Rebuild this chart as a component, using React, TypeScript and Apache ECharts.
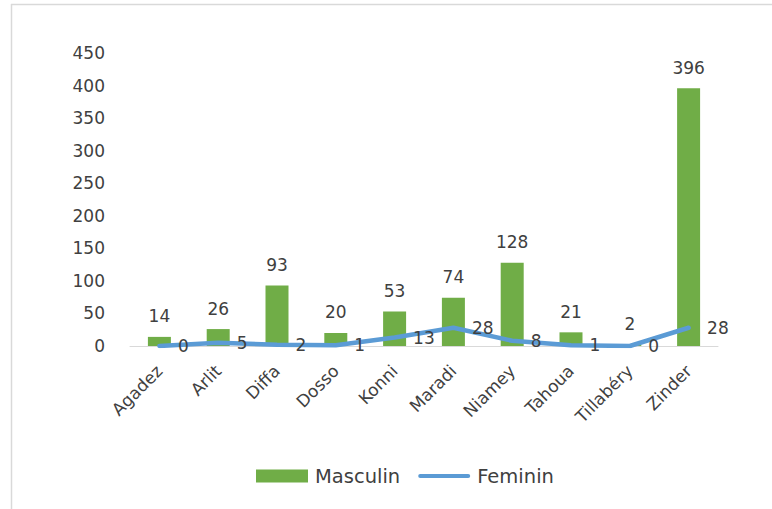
import React, { useEffect, useRef } from "react";
import * as echarts from "echarts";

const categories = ["Agadez", "Arlit", "Diffa", "Dosso", "Konni", "Maradi", "Niamey", "Tahoua", "Tillabéry", "Zinder"];
const masculin = [14, 26, 93, 20, 53, 74, 128, 21, 2, 396];
const feminin = [0, 5, 2, 1, 13, 28, 8, 1, 0, 28];
const yTicks = { min: 0, max: 450, interval: 50 };

const FONT = "DejaVu Sans";

export default function App() {
  const ref = useRef<HTMLDivElement>(null);
  useEffect(() => {
    const chart = echarts.init(ref.current!, null, { renderer: "svg" });
    chart.setOption({
      animation: false,
      backgroundColor: "#ffffff",
      textStyle: { fontFamily: FONT },
      graphic: [
        { type: "line", shape: { x1: 11.5, y1: 4, x2: 11.5, y2: 509 }, style: { stroke: "#d9d9d9", lineWidth: 1.5 } },
        { type: "line", shape: { x1: 11, y1: 4.5, x2: 772, y2: 4.5 }, style: { stroke: "#d9d9d9", lineWidth: 1.5 } },
      ],
      grid: { left: 130, right: 54, top: 53, bottom: 163, containLabel: false },
      legend: {
        bottom: 18,
        left: 251,
        itemWidth: 52,
        itemHeight: 13,
        itemGap: 18,
        textStyle: { fontFamily: FONT, fontSize: 19.5, color: "#404040", padding: [0, 0, 0, 2] },
        data: [
          { name: "Masculin", icon: "rect" },
          { name: "Feminin", icon: "path://M2,0h48a2,2 0 0 1 0,4h-48a2,2 0 0 1 0,-4z" },
        ],
      },
      xAxis: {
        type: "category",
        data: categories,
        axisLine: { show: true, lineStyle: { color: "#d9d9d9", width: 1 } },
        axisTick: { show: false },
        axisLabel: { rotate: 45, margin: 22, fontFamily: FONT, fontSize: 17, color: "#404040", interval: 0 },
      },
      yAxis: {
        type: "value",
        min: yTicks.min,
        max: yTicks.max,
        interval: yTicks.interval,
        axisLine: { show: false },
        axisTick: { show: false },
        splitLine: { show: false },
        axisLabel: { margin: 25, fontFamily: FONT, fontSize: 17, color: "#404040" },
      },
      series: [
        {
          name: "Masculin",
          type: "bar",
          data: masculin,
          barWidth: 23,
          itemStyle: { color: "#70ad47" },
          label: { show: true, position: "top", distance: 12, fontFamily: FONT, fontSize: 17, color: "#404040" },
          z: 2,
        },
        {
          name: "Feminin",
          type: "line",
          data: feminin,
          symbol: "circle",
          symbolSize: 1,
          showSymbol: true,
          itemStyle: { color: "#5b9bd5" },
          lineStyle: { color: "#5b9bd5", width: 4.5, cap: "round", join: "round" },
          label: { show: true, position: "right", distance: 18, fontFamily: FONT, fontSize: 17, color: "#404040" },
          z: 3,
        },
      ],
    });
    return () => chart.dispose();
  }, []);
  return <div ref={ref} style={{ position: "fixed", left: 0, top: 0, width: 772, height: 509 }} />;
}
